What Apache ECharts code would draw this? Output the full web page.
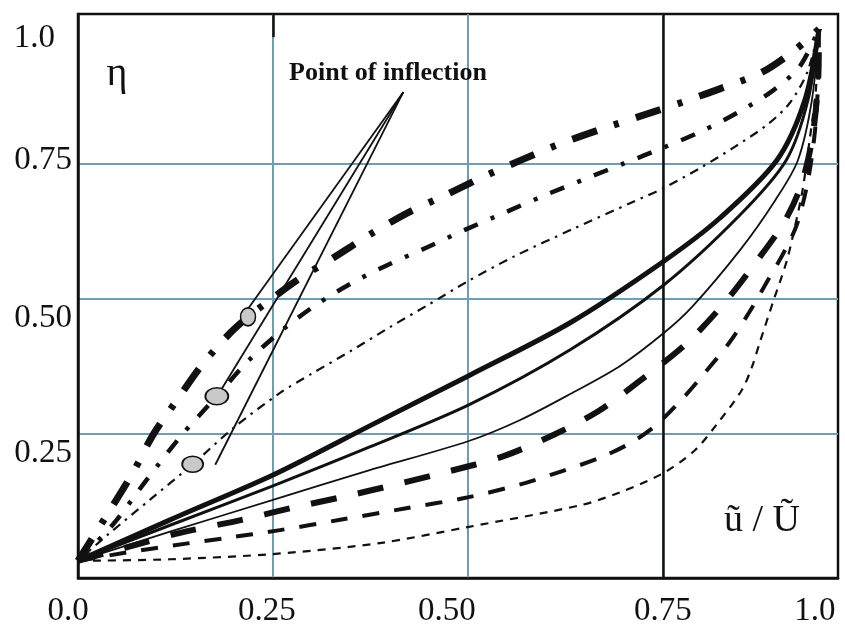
<!DOCTYPE html>
<html><head><meta charset="utf-8">
<script src="https://cdn.jsdelivr.net/npm/echarts@6/dist/echarts.min.js"></script>
<style>html,body{margin:0;padding:0;background:#fff}#c{width:845px;height:632px}</style>
</head><body><div id="c"></div>
<script>
// ---- tick / label values ----
const xGridValues = [0.25, 0.5, 0.75];
const yGridValues = [0.25, 0.5, 0.75];
const xLabelValues = [0, 0.25, 0.5, 0.75, 0.95];
const xLabelTexts = ['0.0', '0.25', '0.50', '0.75', '1.0'];
const yLabelValues = [0.25, 0.5, 0.75, 1.0];
const yLabelTexts = ['0.25', '0.50', '0.75', '1.0'];

// ---- curves [u/U, eta] ----
const solidThick = [[0,0.015],[0.118,0.091],[0.25,0.174],[0.374,0.265],[0.501,0.358],[0.631,0.456],[0.751,0.570],[0.823,0.650],[0.896,0.757],[0.932,0.869],[0.95,1.0]];
const solidMedium = [[0,0.015],[0.118,0.081],[0.25,0.154],[0.374,0.226],[0.501,0.304],[0.631,0.406],[0.751,0.526],[0.849,0.656],[0.908,0.757],[0.936,0.869],[0.95,1.0]];
const solidThin = [[0,0.015],[0.118,0.069],[0.25,0.128],[0.374,0.183],[0.501,0.237],[0.567,0.276],[0.631,0.324],[0.695,0.376],[0.751,0.437],[0.787,0.485],[0.849,0.591],[0.894,0.683],[0.923,0.757],[0.941,0.869],[0.95,1.0]];
const dashThick = [[0,0.015],[0.060,0.039],[0.131,0.067],[0.210,0.091],[0.274,0.113],[0.338,0.133],[0.406,0.156],[0.473,0.180],[0.544,0.208],[0.612,0.250],[0.669,0.294],[0.727,0.356],[0.781,0.419],[0.829,0.493],[0.868,0.566],[0.904,0.639],[0.926,0.706],[0.941,0.794],[0.949,0.906],[0.95,1.0]];
const dashMedium = [[0,0.015],[0.060,0.030],[0.124,0.044],[0.188,0.057],[0.259,0.072],[0.336,0.091],[0.419,0.112],[0.501,0.133],[0.573,0.159],[0.618,0.180],[0.669,0.206],[0.708,0.233],[0.740,0.265],[0.776,0.317],[0.804,0.364],[0.835,0.419],[0.860,0.474],[0.883,0.531],[0.906,0.589],[0.922,0.639],[0.936,0.720],[0.945,0.813],[0.949,0.906],[0.95,1.0]];
const dashThin = [[0,0.015],[0.118,0.018],[0.253,0.028],[0.387,0.048],[0.501,0.078],[0.644,0.118],[0.695,0.142],[0.751,0.178],[0.791,0.220],[0.819,0.268],[0.851,0.331],[0.864,0.374],[0.874,0.419],[0.891,0.494],[0.909,0.572],[0.919,0.633],[0.929,0.702],[0.938,0.794],[0.946,0.887],[0.95,1.0]];
const dashDotThick = [[0,0.015],[0.041,0.109],[0.071,0.180],[0.096,0.248],[0.127,0.313],[0.159,0.378],[0.195,0.437],[0.218,0.467],[0.236,0.487],[0.281,0.535],[0.327,0.576],[0.374,0.619],[0.422,0.659],[0.472,0.693],[0.519,0.726],[0.571,0.759],[0.621,0.789],[0.672,0.815],[0.724,0.840],[0.776,0.865],[0.826,0.891],[0.877,0.920],[0.919,0.961],[0.95,1.0]];
const dashDotMedium = [[0,0.015],[0.044,0.081],[0.088,0.165],[0.133,0.248],[0.178,0.320],[0.218,0.385],[0.259,0.439],[0.303,0.487],[0.349,0.528],[0.397,0.563],[0.445,0.594],[0.496,0.628],[0.547,0.660],[0.600,0.693],[0.653,0.724],[0.700,0.751],[0.750,0.780],[0.800,0.811],[0.849,0.848],[0.890,0.885],[0.925,0.930],[0.95,1.0]];
const dashDotThin = [[0,0.015],[0.037,0.062],[0.092,0.128],[0.147,0.194],[0.200,0.262],[0.259,0.326],[0.300,0.362],[0.350,0.404],[0.400,0.448],[0.450,0.490],[0.500,0.533],[0.558,0.578],[0.635,0.630],[0.712,0.680],[0.750,0.705],[0.797,0.742],[0.840,0.780],[0.883,0.822],[0.912,0.862],[0.935,0.920],[0.95,1.0]];

// ---- inflection annotation ----
const inflectionPoints = [[0.218,0.467],[0.178,0.320],[0.147,0.194]];
const pointerApex = [0.417,0.883];
const pointerEnds = [[0.215,0.476],[0.181,0.326],[0.176,0.193]];
const annotationText = 'Point of inflection';

const SERIF = '"Liberation Serif","DejaVu Serif",serif';
const INK = '#111';
const GRIDC = '#6f9db3';

function curve(name, data, width, dash, z) {
  return {
    name, type: 'line', data, smooth: 0.3, showSymbol: false, symbol: 'none', z: z || 3,
    lineStyle: { color: INK, width, type: dash, cap: 'butt', join: 'round' },
    silent: true, animation: false
  };
}

const xShift = [20, 12, 42, 0, 8];
const xRich = {};
xShift.forEach((p, i) => { xRich['x' + i] = { fontFamily: SERIF, fontSize: 33, color: INK, padding: [0, p, 0, 0] }; });
const yPad = [[38,0,0,0],[38,0,0,0],[0,0,8,0],[18,17,0,0]];
const yRich = {};
yPad.forEach((p, i) => { yRich['y' + i] = { fontFamily: SERIF, fontSize: 33, color: INK, padding: p }; });

function idxOf(arr, v) { let b = 0; arr.forEach((a, i) => { if (Math.abs(a - v) < Math.abs(arr[b] - v)) b = i; }); return b; }

const series = [
  curve('solidThick', solidThick, 5, 'solid'),
  curve('solidMedium', solidMedium, 3, 'solid'),
  curve('solidThin', solidThin, 1.8, 'solid'),
  curve('dashThick', dashThick, 6, [26, 22]),
  curve('dashMedium', dashMedium, 4, [17, 15]),
  curve('dashThin', dashThin, 2.2, [8, 7]),
  curve('dashDotThick', dashDotThick, 7, [26, 18, 5, 18]),
  curve('dashDotMedium', dashDotMedium, 4.5, [15, 14, 4, 14]),
  curve('dashDotThin', dashDotThin, 2.2, [9, 6, 2.5, 6])
];
pointerEnds.forEach((e, i) => {
  series.push({
    name: 'pointer' + i, type: 'line', data: [pointerApex, e], showSymbol: false, symbol: 'none', z: 4,
    lineStyle: { color: INK, width: 1.8 }, silent: true, animation: false
  });
});
const circleSizes = [[15,18],[23,17],[21,16]];
series.push({
  name: 'inflection', type: 'scatter', z: 6, silent: true, animation: false,
  data: inflectionPoints.map((p, i) => ({ value: p, symbolSize: circleSizes[i] })),
  itemStyle: { color: '#c9c9c9', borderColor: INK, borderWidth: 1.6, opacity: 1 }
});
series.push({
  name: 'frameMarks', type: 'line', data: [], z: 2, silent: true, animation: false,
  markLine: {
    silent: true, symbol: 'none', animation: false, label: { show: false },
    lineStyle: { color: INK, width: 2.5, type: 'solid' },
    data: [
      { xAxis: 0.75 },
      [{ coord: [0.25, 1.0278] }, { coord: [0.25, 0.985] }]
    ]
  }
});

const option = {
  backgroundColor: '#fff',
  animation: false,
  grid: { left: 78, top: 14, right: 7, bottom: 54, show: true, borderColor: INK, borderWidth: 2.5, backgroundColor: 'transparent' },
  xAxis: {
    type: 'value', min: 0, max: 0.9744,
    axisLine: { show: true, onZero: false, lineStyle: { color: INK, width: 2.5 } },
    axisTick: { show: false, customValues: xGridValues },
    splitLine: { show: true, lineStyle: { color: GRIDC, width: 2 } },
    axisLabel: {
      customValues: xLabelValues, margin: 17,
      formatter: v => { const i = idxOf(xLabelValues, v); return '{x' + i + '|' + xLabelTexts[i] + '}'; },
      rich: xRich
    }
  },
  yAxis: {
    type: 'value', min: -0.0167, max: 1.0278,
    axisLine: { show: true, onZero: false, lineStyle: { color: INK, width: 2.5 } },
    axisTick: { show: false, customValues: yGridValues },
    splitLine: { show: true, lineStyle: { color: GRIDC, width: 2 } },
    axisLabel: {
      customValues: yLabelValues, margin: 6,
      formatter: v => { const i = idxOf(yLabelValues, v); return '{y' + i + '|' + yLabelTexts[i] + '}'; },
      rich: yRich
    }
  },
  graphic: [
    { type: 'text', x: 388, y: 73, z: 10, style: { text: annotationText, fontFamily: SERIF, fontSize: 26, fontWeight: 'bold', fill: INK, textAlign: 'center', textVerticalAlign: 'middle' } },
    { type: 'text', x: 117, y: 74, z: 10, style: { text: 'η', fontFamily: SERIF, fontSize: 40, fill: INK, textAlign: 'center', textVerticalAlign: 'middle' } },
    { type: 'text', x: 762, y: 521, z: 10, style: { text: 'ũ / Ũ', fontFamily: SERIF, fontSize: 38, fill: INK, textAlign: 'center', textVerticalAlign: 'middle' } }
  ],
  series
};
const chart = echarts.init(document.getElementById('c'), null, { renderer: 'canvas' });
chart.setOption(option);
</script></body></html>
